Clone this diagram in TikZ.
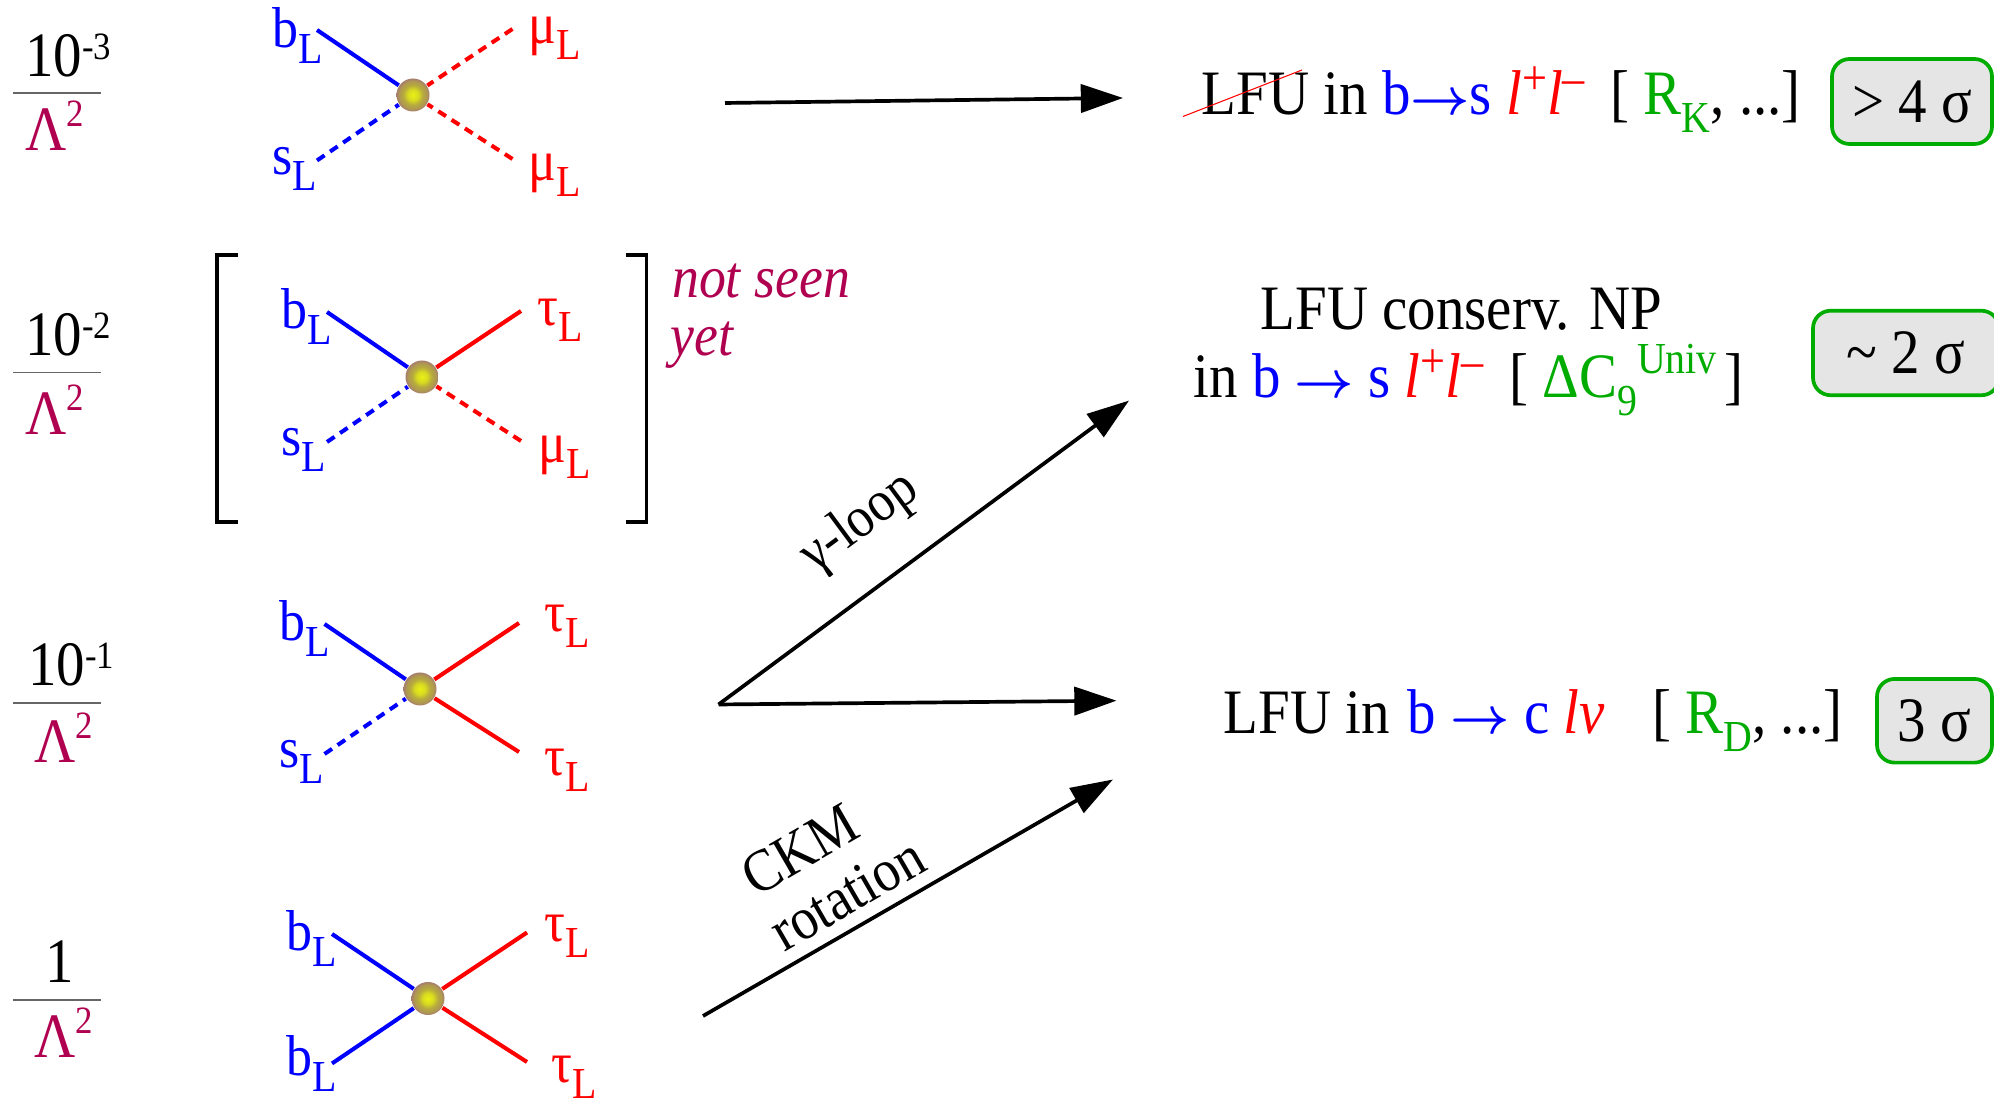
\documentclass[tikz,border=0pt]{standalone}
\usepackage{fontspec}
\setmainfont[FakeStretch=0.9]{Liberation Serif}
\usetikzlibrary{arrows.meta}
\definecolor{ink}{gray}{0.0}
\definecolor{scalecol}{RGB}{176,0,80}
\definecolor{fitgreen}{RGB}{0,172,0}
\definecolor{boxgray}{gray}{0.90}
\definecolor{ballcore}{RGB}{232,240,20}
\definecolor{ballmid}{RGB}{182,170,62}
\definecolor{ballrim}{RGB}{165,125,110}
\pgfdeclareradialshading{ballshade}{\pgfpointorigin}{color(0bp)=(ballcore); color(8bp)=(ballcore!70!ballmid); color(15bp)=(ballmid); color(21bp)=(ballmid!60!ballrim); color(25bp)=(ballrim); color(50bp)=(ballrim)}
\newcommand{\mainsz}{\fontsize{18}{21}\selectfont}
\newcommand{\smallsz}{\fontsize{12.6}{14}\selectfont}
\newcommand{\lowr}[1]{\raisebox{-0.27em}{\smallsz #1}}
\newcommand{\upr}[1]{\raisebox{0.38em}{\smallsz #1}}
\newcommand{\expo}[1]{\raisebox{0.27em}{\fontsize{11}{13}\selectfont #1}}
\newcommand{\rarr}{\scalebox{0.85}{\boldmath$\rightarrow$}}
\newcommand{\cblue}[1]{\textcolor{blue}{#1}}
\newcommand{\cred}[1]{\textcolor{red}{#1}}
\newcommand{\cgreen}[1]{\textcolor{fitgreen}{#1}}
\newcommand{\llpair}{\cred{\textit{l}\raisebox{0.32em}{\fontsize{14}{16}\selectfont +}\textit{l}\raisebox{0.32em}{\fontsize{14}{16}\selectfont –}}}
\tikzset{
  txt/.style={anchor=base west,inner sep=0pt,font=\mainsz},
  qlab/.style={txt,text=blue,font=\fontsize{16.4}{19}\selectfont},
  llab/.style={txt,text=red,font=\fontsize{16.4}{19}\selectfont},
  vtx/.style={circle,minimum size=0.33cm,inner sep=0pt,shading=ballshade},
  qline/.style={blue,line width=1.15pt},
  lline/.style={red,line width=1.15pt},
  dash4/.style={dash pattern=on 2.6pt off 1.9pt},
  arr/.style={ink,line width=1.05pt,-{Triangle[length=12pt,width=8pt]}},
  brk/.style={ink,line width=0.9pt},
  sbox/.style={draw=fitgreen,fill=boxgray,line width=1.05pt,rounded corners=5pt,inner sep=0pt,
    font=\mainsz,text height=0.42cm,text depth=0pt}
}
\begin{document}
\begin{tikzpicture}
  \useasboundingbox (0,0) rectangle (19.94,11.03);
  % scale fractions
  \foreach \i/\num/\xn/\yn/\xl/\yl/\yr in {
    a/{10\expo{-3}}/0.245/10.265/0.245/9.52/10.10,
    b/{10\expo{-2}}/0.245/7.476/0.245/6.684/7.304,
    c/{10\expo{-1}}/0.277/4.17/0.335/3.40/4.0,
    d/{1}/0.45/1.205/0.335/0.45/1.03}{
    \node[txt] (num\i) at (\xn,\yn) {\num};
    \node[txt,text=scalecol] (lam\i) at (\xl,\yl) {Λ\raisebox{0.38em}{\fontsize{11}{13}\selectfont 2}};
    \coordinate (ra\i) at (0.13,\yr);
    \coordinate (rb\i) at (1.01,\yr);
    \draw[black!60,line width=0.45pt] (ra\i) -- (rb\i);
  }
  % first vertex
  \node[vtx] (v1) at (4.13,10.08) {};
  \coordinate (b1) at (3.17,10.73);
  \coordinate (s1) at (3.17,9.425);
  \coordinate (m1) at (5.125,10.74);
  \coordinate (n1) at (5.125,9.44);
  \draw[qline] (b1) -- (v1);
  \draw[qline,dash4] (s1) -- (v1);
  \draw[lline,dash4] (m1) -- (v1);
  \draw[lline,dash4] (n1) -- (v1);
  \node[qlab] (bl1) at (2.72,10.555) {b\lowr{L}};
  \node[qlab] (sl1) at (2.72,9.28) {s\lowr{L}};
  \node[llab] (ml1) at (5.28,10.59) {μ\lowr{L}};
  \node[llab] (nl1) at (5.28,9.22) {μ\lowr{L}};
  % second vertex
  \node[vtx] (v2) at (4.22,7.26) {};
  \coordinate (b2) at (3.27,7.91);
  \coordinate (s2) at (3.27,6.61);
  \coordinate (t2) at (5.21,7.92);
  \coordinate (m2) at (5.21,6.62);
  \draw[qline] (b2) -- (v2);
  \draw[qline,dash4] (s2) -- (v2);
  \draw[lline] (t2) -- (v2);
  \draw[lline,dash4] (m2) -- (v2);
  \node[qlab] (bl2) at (2.81,7.74) {b\lowr{L}};
  \node[qlab] (sl2) at (2.81,6.47) {s\lowr{L}};
  \node[llab] (tl2) at (5.37,7.775) {τ\lowr{L}};
  \node[llab] (ml2) at (5.38,6.40) {μ\lowr{L}};
  % square bracket round it
  \coordinate (la) at (2.38,8.48);
  \coordinate (lb) at (2.17,8.48);
  \coordinate (lc) at (2.17,5.81);
  \coordinate (ld) at (2.38,5.81);
  \coordinate (ra) at (6.26,8.48);
  \coordinate (rb) at (6.465,8.48);
  \coordinate (rc) at (6.465,5.81);
  \coordinate (rd) at (6.26,5.81);
  \draw[brk] (la) -- (lb) -- (lc) -- (ld);
  \draw[brk] (ra) -- (rb) -- (rc) -- (rd);
  \node[txt,text=scalecol,font=\fontsize{17}{20}\selectfont\itshape] (nots) at (6.715,8.05) {not seen};
  \node[txt,text=scalecol,font=\fontsize{17}{20}\selectfont\itshape] (yet) at (6.70,7.47) {yet};
  % third vertex
  \node[vtx] (v3) at (4.20,4.14) {};
  \coordinate (b3) at (3.245,4.79);
  \coordinate (s3) at (3.245,3.49);
  \coordinate (t3) at (5.19,4.80);
  \coordinate (u3) at (5.19,3.51);
  \draw[qline] (b3) -- (v3);
  \draw[qline,dash4] (s3) -- (v3);
  \draw[lline] (t3) -- (v3);
  \draw[lline] (u3) -- (v3);
  \node[qlab] (bl3) at (2.79,4.62) {b\lowr{L}};
  \node[qlab] (sl3) at (2.79,3.35) {s\lowr{L}};
  \node[llab] (tl3) at (5.44,4.71) {τ\lowr{L}};
  \node[llab] (ul3) at (5.44,3.27) {τ\lowr{L}};
  % fourth vertex
  \node[vtx] (v4) at (4.28,1.045) {};
  \coordinate (b4) at (3.32,1.69);
  \coordinate (c4) at (3.32,0.395);
  \coordinate (t4) at (5.27,1.705);
  \coordinate (u4) at (5.27,0.41);
  \draw[qline] (b4) -- (v4);
  \draw[qline] (c4) -- (v4);
  \draw[lline] (t4) -- (v4);
  \draw[lline] (u4) -- (v4);
  \node[qlab] (bl4) at (2.86,1.52) {b\lowr{L}};
  \node[qlab] (cl4) at (2.86,0.27) {b\lowr{L}};
  \node[llab] (tl4) at (5.44,1.61) {τ\lowr{L}};
  \node[llab] (ul4) at (5.51,0.20) {τ\lowr{L}};
  % arrows
  \coordinate (pa) at (7.25,10.0);
  \coordinate (qa) at (11.23,10.05);
  \coordinate (pb) at (7.185,3.985);
  \coordinate (qb) at (11.29,7.024);
  \coordinate (qc) at (11.165,4.023);
  \coordinate (pd) at (7.03,0.87);
  \coordinate (qd) at (11.13,3.235);
  \draw[arr] (pa) -- (qa);
  \draw[arr] (pb) -- (qb);
  \draw[arr] (pb) -- (qc);
  \draw[arr] (pd) -- (qd);
  \node[font=\fontsize{16.4}{19}\selectfont,rotate=36.5,inner sep=0pt] (gam) at (8.60,5.80) {γ-loop};
  \node[font=\fontsize{17}{17.7}\selectfont,rotate=30,align=center,inner sep=0pt] (ckm) at (8.317,2.36) {CKM\hspace*{10.8pt}\\rotation};
  % right column
  \node[txt] (ra1) at (12.01,9.88) {LFU in \cblue{b\rarr s} \llpair{}\hspace{0.18em} [ \cgreen{R\lowr{K}}, ...]};
  \coordinate (sa) at (11.83,9.865);
  \coordinate (sb) at (13.02,10.33);
  \draw[red,line width=0.3pt] (sa) -- (sb);
  \node[txt] (ra2) at (12.60,7.73) {LFU conserv. NP};
  \node[txt] (rb2) at (11.93,7.05) {in \cblue{b \rarr{} s} \llpair{}\hspace{0.18em} [ \cgreen{ΔC\lowr{9}\upr{Univ}}\hspace{-0.1em} ]};
  \node[txt] (ra3) at (12.23,3.69) {LFU in\hspace{0.06em} \cblue{b \rarr{} c} \cred{\textit{lv}} \ \ \hspace{0.08em}[ \cgreen{R\lowr{D}}, ...]};
  % result boxes
  \node[sbox,minimum width=1.6cm,minimum height=0.85cm] (res1) at (19.12,10.015) {> 4 σ};
  \node[sbox,minimum width=1.86cm,minimum height=0.845cm] (res2) at (19.06,7.5) {\textasciitilde\ 2 σ};
  \node[sbox,minimum width=1.15cm,minimum height=0.837cm] (res3) at (19.345,3.822) {3 σ};
\end{tikzpicture}
\end{document}
